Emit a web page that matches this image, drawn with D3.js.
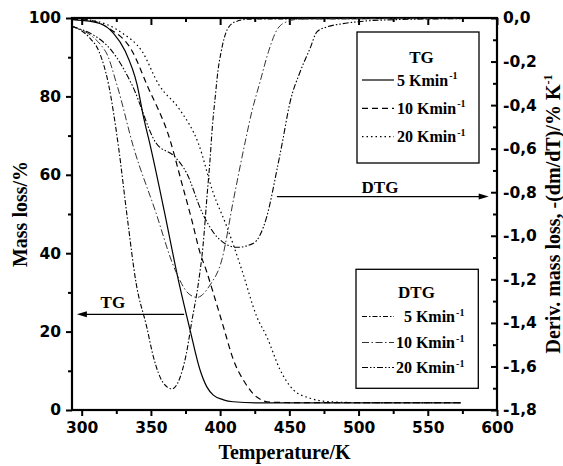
<!DOCTYPE html>
<html>
<head>
<meta charset="utf-8">
<script src="https://cdn.jsdelivr.net/npm/d3@7"></script>
<style>
body { margin: 0; background: #fff; }
svg { display: block; }
.tick text { font-family: "DejaVu Sans", sans-serif; font-weight: bold; font-size: 15.5px; fill: #000; }
.title, .leg { font-family: "Liberation Serif", "Times New Roman", serif; font-weight: bold; fill: #000; }
</style>
</head>
<body>
<script>
// TG curves, [temperature K, mass loss %]
var tg5 = [[293,99.6],[300,99.4],[313,98.6],[323,96.1],[331.5,91.5],[340,83.0],[344.8,74.5],[349.5,67.5],[359.5,51],[369.8,33.2],[378.3,20.4],[385.5,10.2],[390.4,5.9],[395.1,3.8],[402.4,2.6],[409.4,2.1],[426.5,1.8],[450,1.8],[574,1.8]];
var tg10 = [[293,99.7],[305,99.5],[319.5,97.4],[336.4,91.6],[347.2,82.9],[363.8,68.9],[372.3,57.9],[379.5,48.5],[385.5,40.1],[389.9,35.7],[395.1,29.8],[402.4,21.2],[409.6,12.8],[418.1,6.9],[426.5,3.3],[436.1,2.0],[450,1.9],[574,1.9]];
var tg20 = [[293,99.8],[310,99.2],[329.1,96.2],[343.6,91.5],[355.7,83],[371.1,76.5],[384.3,68],[395.1,55.3],[404.8,46.8],[415.7,35.7],[426.5,23.8],[433.7,18.7],[443.4,10.2],[453,5.1],[465,3.0],[479.5,2.1],[500,1.9],[574,1.9]];

// DTG curves, [temperature K, %/K]
var dtg5 = [[293,-0.038],[306,-0.093],[312.3,-0.151],[319.5,-0.308],[326.7,-0.597],[332.7,-0.905],[339.3,-1.217],[347,-1.419],[351.8,-1.556],[359,-1.676],[365.3,-1.703],[370.9,-1.653],[375.4,-1.547],[379.7,-1.387],[384.1,-1.226],[387.7,-1.042],[390.6,-0.813],[392.7,-0.652],[394.2,-0.514],[396.4,-0.367],[398.5,-0.239],[400.7,-0.156],[405,-0.055],[410.8,-0.018],[421.7,-0.005],[574,-0.002]];
var dtg10 = [[293,-0.037],[317.1,-0.152],[325.5,-0.308],[337.6,-0.597],[353,-0.882],[367.5,-1.157],[376.8,-1.263],[383.3,-1.283],[392.7,-1.226],[401.2,-1.111],[409.6,-0.836],[418.1,-0.569],[422.9,-0.430],[428.9,-0.292],[434.9,-0.155],[441,-0.055],[448.2,-0.017],[457.8,-0.005],[574,-0.002]];
var dtg20 = [[293,-0.039],[321.9,-0.152],[336.4,-0.308],[353.7,-0.574],[367.4,-0.638],[375.9,-0.713],[386.7,-0.889],[397.6,-1.004],[412.1,-1.053],[424.1,-1.034],[433.7,-0.912],[441,-0.698],[444.6,-0.583],[450.6,-0.384],[457.8,-0.247],[465,-0.139],[469.9,-0.064],[477.1,-0.041],[486.7,-0.028],[501.2,-0.016],[530.1,-0.007],[574,-0.003]];

var rates = ["5", "10", "20"];

var xTicks = [300, 350, 400, 450, 500, 550, 600];
var xMinor = [325, 375, 425, 475, 525, 575];
var massTicks = [0, 20, 40, 60, 80, 100];
var massMinor = [10, 30, 50, 70, 90];
var derivTicks = [0, -0.2, -0.4, -0.6, -0.8, -1.0, -1.2, -1.4, -1.6, -1.8];
var derivMinor = [-0.1, -0.3, -0.5, -0.7, -0.9, -1.1, -1.3, -1.5, -1.7];

// arrow annotations in data units
var tgArrow = {from: 374, to: 296.5, y: 24.4, label: 322.5};
var dtgArrow = {from: 441, to: 594, y: -0.82, label: 515.5};

var width = 563, height = 466;
var pL = 72, pR = 497, pT = 18, pB = 410;

var svg = d3.select("body").append("svg")
    .attr("width", width)
    .attr("height", height);

var x = d3.scaleLinear().domain([293, 600]).range([pL, pR]);
var yL = d3.scaleLinear().domain([0, 100]).range([pB, pT]);
var yR = d3.scaleLinear().domain([-1.8, 0]).range([pB, pT]);

var comma = d3.formatLocale({decimal: ",", thousands: ".", grouping: [3], currency: ["", ""], minus: "-"}).format(".1f");

function noDomain(g) { g.select(".domain").remove(); }

// bottom axis
svg.append("g").attr("transform", "translate(0," + pB + ")")
    .call(d3.axisBottom(x).tickValues(xTicks).tickSize(6).tickPadding(6).tickFormat(d3.format("d")))
    .call(noDomain);
svg.append("g").attr("transform", "translate(0," + pB + ")")
    .call(d3.axisBottom(x).tickValues(xMinor).tickSize(4).tickFormat(""))
    .call(noDomain);
// top axis, ticks inward
svg.append("g").attr("transform", "translate(0," + pT + ")")
    .call(d3.axisBottom(x).tickValues(xTicks).tickSize(7).tickFormat(""))
    .call(noDomain);
svg.append("g").attr("transform", "translate(0," + pT + ")")
    .call(d3.axisBottom(x).tickValues(xMinor).tickSize(4).tickFormat(""))
    .call(noDomain);
// left axis
svg.append("g").attr("transform", "translate(" + pL + ",0)")
    .call(d3.axisLeft(yL).tickValues(massTicks).tickSize(6).tickPadding(5))
    .call(noDomain);
svg.append("g").attr("transform", "translate(" + pL + ",0)")
    .call(d3.axisLeft(yL).tickValues(massMinor).tickSize(4).tickFormat(""))
    .call(noDomain);
// right axis, ticks inward
svg.append("g").attr("transform", "translate(" + pR + ",0)")
    .call(d3.axisRight(yR).tickValues(derivTicks).tickSize(-6).tickPadding(6).tickFormat(comma))
    .call(noDomain);
svg.append("g").attr("transform", "translate(" + pR + ",0)")
    .call(d3.axisRight(yR).tickValues(derivMinor).tickSize(-4).tickFormat(""))
    .call(noDomain);

svg.selectAll(".tick line").attr("stroke", "#000").attr("stroke-width", 2);

svg.append("rect")
    .attr("x", pL).attr("y", pT)
    .attr("width", pR - pL).attr("height", pB - pT)
    .attr("fill", "none").attr("stroke", "#000").attr("stroke-width", 2.2);

// curves
var lineL = d3.line().x(function(d) { return x(d[0]); }).y(function(d) { return yL(d[1]); }).curve(d3.curveMonotoneX);
var lineR = d3.line().x(function(d) { return x(d[0]); }).y(function(d) { return yR(d[1]); }).curve(d3.curveMonotoneX);

var tgStyles = [
  {data: tg5, dash: null},
  {data: tg10, dash: "6,4"},
  {data: tg20, dash: "1.5,3"}
];
var dtgStyles = [
  {data: dtg5, dash: "5,2,1.5,2", color: "#000", w: 1.1},
  {data: dtg10, dash: "7,2.5,1.5,2.5", color: "#333", w: 1},
  {data: dtg20, dash: "6,2,1.5,2,1.5,2", color: "#000", w: 1.1}
];

var plot = svg.append("g");
tgStyles.forEach(function(s) {
  plot.append("path").attr("d", lineL(s.data))
      .attr("fill", "none").attr("stroke", "#000").attr("stroke-width", 1.2)
      .attr("stroke-dasharray", s.dash);
});
dtgStyles.forEach(function(s) {
  plot.append("path").attr("d", lineR(s.data))
      .attr("fill", "none").attr("stroke", s.color).attr("stroke-width", s.w)
      .attr("stroke-dasharray", s.dash);
});

// arrows
function arrow(x1, x2, y) {
  var dir = x2 > x1 ? 1 : -1;
  svg.append("line").attr("x1", x1).attr("x2", x2 - dir * 6).attr("y1", y).attr("y2", y)
      .attr("stroke", "#000").attr("stroke-width", 1.3);
  svg.append("path")
      .attr("d", "M" + x2 + "," + y + "L" + (x2 - dir * 10) + "," + (y - 3) + "L" + (x2 - dir * 10) + "," + (y + 3) + "Z")
      .attr("fill", "#000");
}
arrow(x(tgArrow.from), x(tgArrow.to), yL(tgArrow.y));
arrow(x(dtgArrow.from), x(dtgArrow.to), yR(dtgArrow.y));

svg.append("text").attr("class", "title").attr("font-size", 17)
    .attr("x", x(tgArrow.label)).attr("y", yL(tgArrow.y) - 6).attr("text-anchor", "middle").text("TG");
svg.append("text").attr("class", "title").attr("font-size", 17)
    .attr("x", x(dtgArrow.label)).attr("y", yR(dtgArrow.y) - 4).attr("text-anchor", "middle").text("DTG");

// legends
function legend(title, box, rows, styles, anchorEnd) {
  var g = svg.append("g");
  g.append("rect").attr("x", box.x).attr("y", box.y).attr("width", box.w).attr("height", box.h)
      .attr("fill", "#fff").attr("stroke", "#000").attr("stroke-width", 1.3);
  g.append("text").attr("class", "leg").attr("font-size", 17)
      .attr("x", box.tx).attr("y", box.ty).attr("text-anchor", "middle").text(title);
  rows.forEach(function(yy, i) {
    var s = styles[i];
    g.append("line").attr("x1", 362).attr("x2", 394).attr("y1", yy).attr("y2", yy)
        .attr("stroke", s.color || "#000").attr("stroke-width", s.w || 1.2)
        .attr("stroke-dasharray", s.dash);
    var t = g.append("text").attr("class", "leg").attr("font-size", 16)
        .attr("y", yy + 5.5);
    if (anchorEnd) {
      t.attr("x", 455).attr("text-anchor", "end");
    } else {
      t.attr("x", 397);
    }
    t.text(rates[i] + " Kmin");
    var bb = t.node().getBBox();
    g.append("text").attr("class", "leg").attr("font-size", 10)
        .attr("x", bb.x + bb.width + 1).attr("y", yy - 1).text("-1");
  });
}
legend("TG", {x: 357, y: 32, w: 122, h: 131, tx: 421.5, ty: 62.5}, [80, 108.3, 136.7], tgStyles, false);
legend("DTG", {x: 356, y: 269.3, w: 122.3, h: 119, tx: 416.5, ty: 297.5}, [316.5, 342.5, 367.5], dtgStyles, true);

// axis titles
svg.append("text").attr("class", "title").attr("font-size", 20)
    .attr("x", (pL + pR) / 2).attr("y", 459).attr("text-anchor", "middle").text("Temperature/K");
svg.append("text").attr("class", "title").attr("font-size", 20)
    .attr("transform", "translate(27," + ((pT + pB) / 2) + ") rotate(-90)")
    .attr("text-anchor", "middle").text("Mass loss/%");
var rt = svg.append("text").attr("class", "title").attr("font-size", 20)
    .attr("transform", "translate(560," + ((pT + pB) / 2) + ") rotate(-90)")
    .attr("text-anchor", "middle");
rt.append("tspan").text("Deriv. mass loss, -(dm/dT)/% K");
rt.append("tspan").attr("font-size", 12).attr("dy", -8).text("-1");
</script>
</body>
</html>
